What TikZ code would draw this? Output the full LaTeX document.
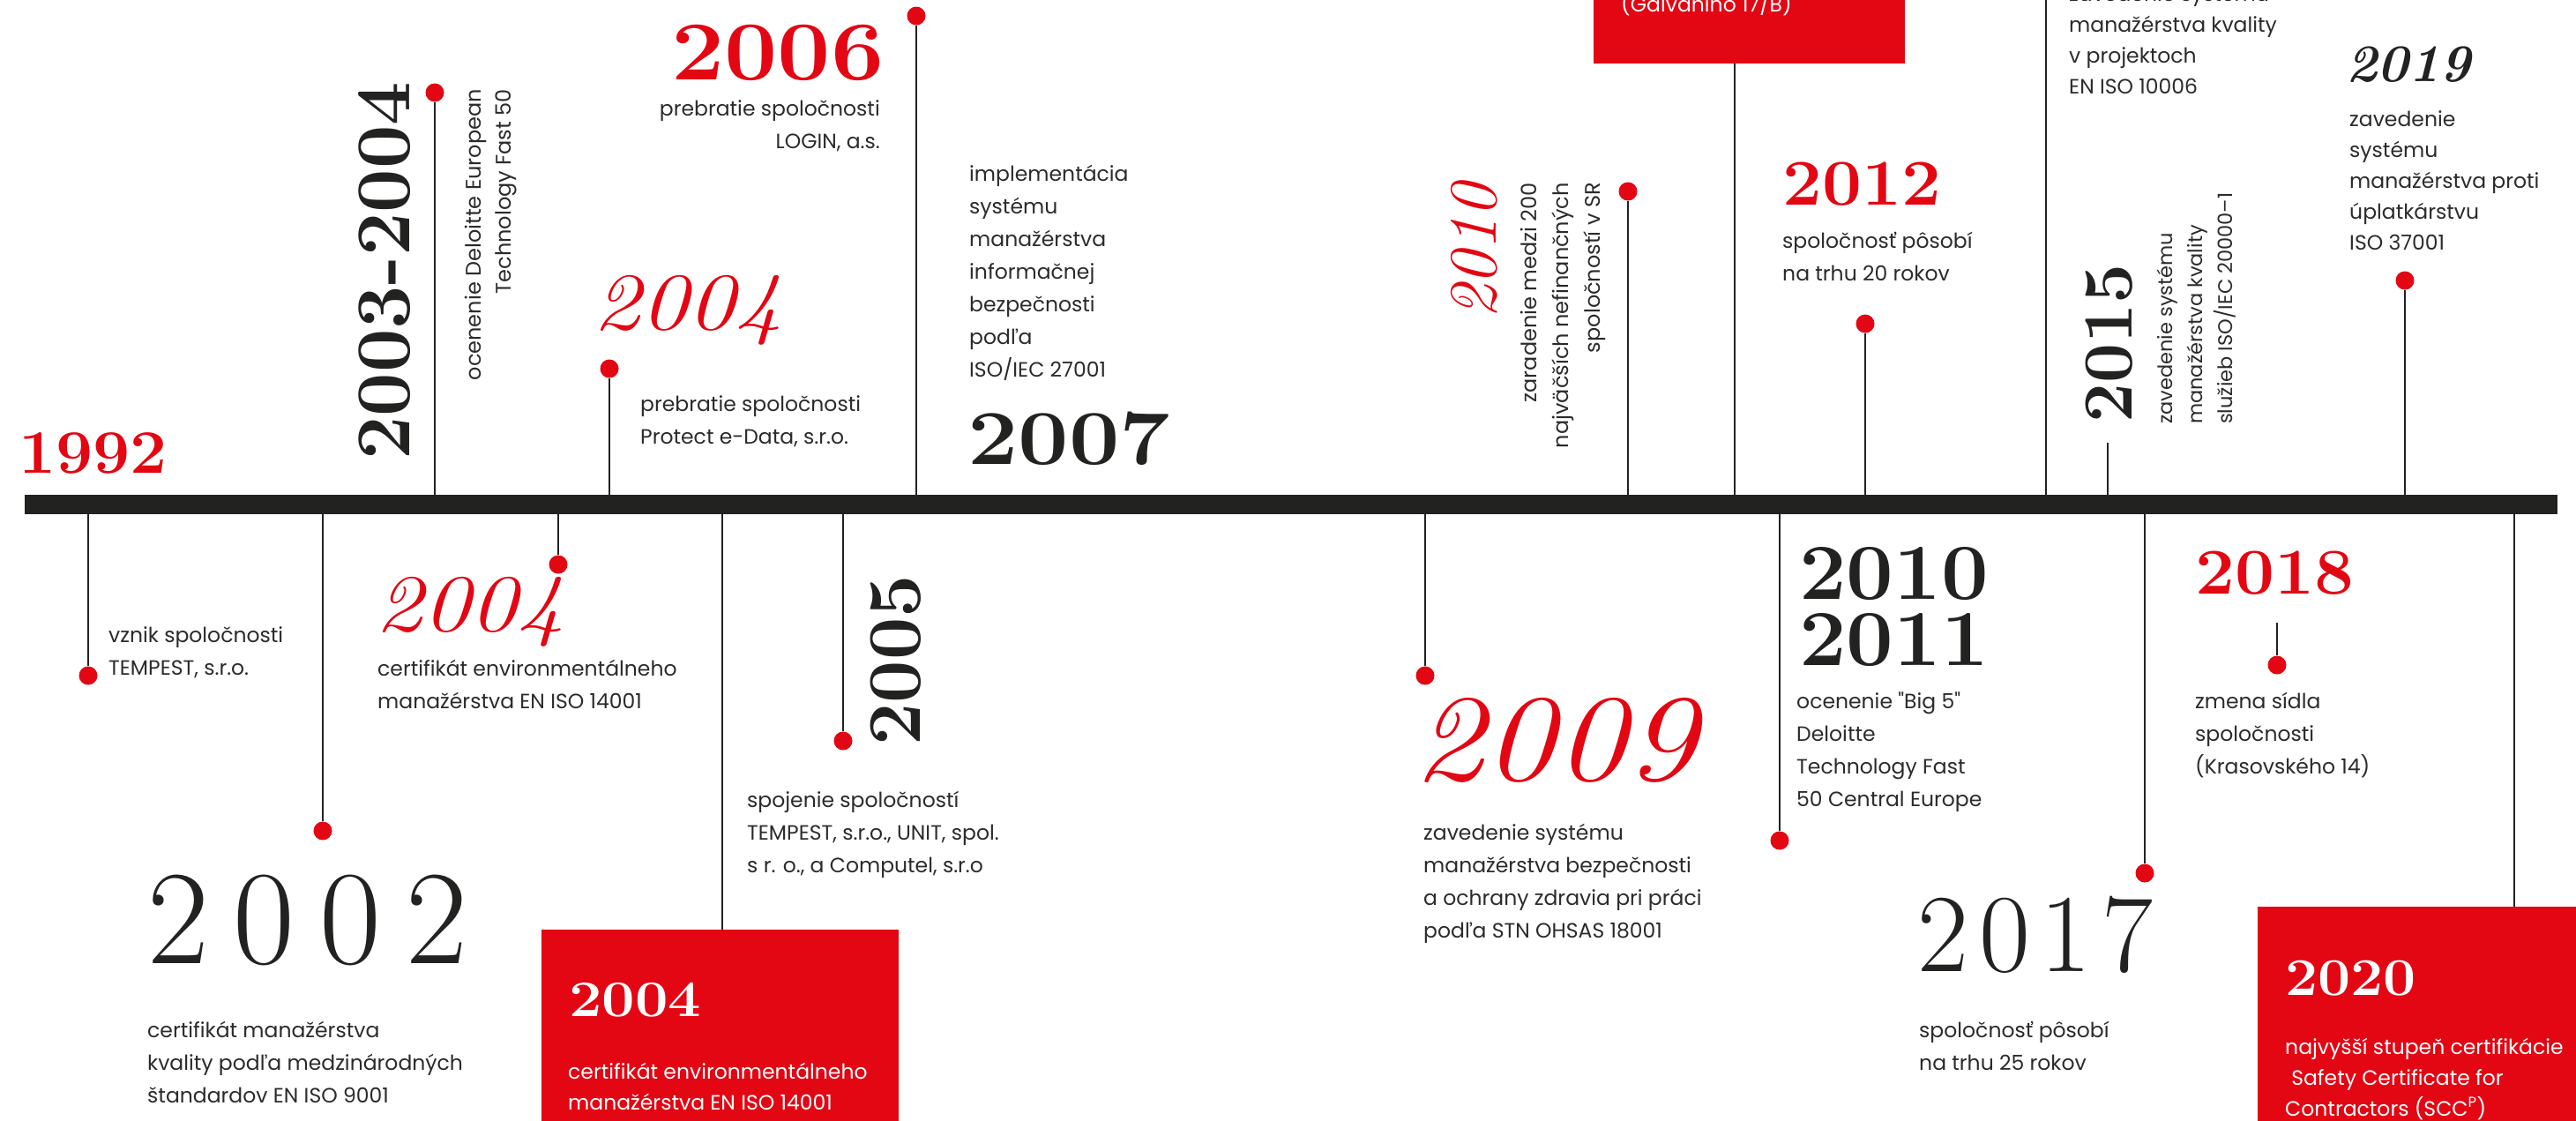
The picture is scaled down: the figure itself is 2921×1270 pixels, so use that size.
\documentclass[tikz,border=0pt]{standalone}
\usepackage{fontspec}
\newfontfamily\pop{Poppins}
\definecolor{tred}{HTML}{E30613}
\definecolor{tink}{HTML}{222221}
\definecolor{ttext}{HTML}{2B2B2B}
\begin{document}
\begin{tikzpicture}[x=1pt,y=-1pt,
 dot/.style={circle,fill=tred,inner sep=0pt,minimum size=21pt},
 stem/.style={draw=tink,line width=2.6pt},
 body/.style={font=\pop\fontsize{23.5}{#1}\selectfont,text=ttext,inner sep=0pt,anchor=base west,align=left},
 body/.default=37,
 rbody/.style={font=\pop\fontsize{24}{#1}\selectfont,text=ttext,inner sep=0pt,rotate=90},
 yr/.style={font=\fontsize{#1}{#1}\selectfont,inner sep=0pt,anchor=base west},
 yb/.style={font=\fontsize{#1}{#1}\selectfont\bfseries,inner sep=0pt,anchor=base west},
 yi/.style={font=\fontsize{#1}{#1}\selectfont\itshape,inner sep=0pt,anchor=base west},
 ybi/.style={font=\fontsize{#1}{#1}\selectfont\bfseries\itshape,inner sep=0pt,anchor=base west},
 redbox/.style={fill=tred,inner sep=0pt,anchor=north west},
]
\path[use as bounding box] (0,0) rectangle (2921,1270);
\clip (0,0) rectangle (2921,1270);

% timeline bar
\node[fill=tink,inner sep=0pt,minimum width=2872pt,minimum height=22pt,anchor=north west] (bar) at (28,561) {};

% red boxes
\node[redbox,minimum width=353pt,minimum height=100pt] (boxtop) at (1807,-28) {};
\node[redbox,minimum width=405pt,minimum height=240pt] (box2004) at (614,1054) {};
\node[redbox,minimum width=380pt,minimum height=260pt] (box2020) at (2560,1028) {};

% dots
\node[dot] (d2003) at (493,105) {};
\node[dot] (d2004a) at (691,418) {};
\node[dot] (d2006) at (1039,18) {};
\node[dot] (d2010) at (1846,217) {};
\node[dot] (d2012) at (2115,367) {};
\node[dot] (d2019) at (2727,318) {};
\node[dot] (d1992) at (100,766) {};
\node[dot] (d2002) at (366,942) {};
\node[dot] (d2004b) at (633,640) {};
\node[dot] (d2005) at (956,840) {};
\node[dot] (d2009) at (1616,766) {};
\node[dot] (d2011) at (2018,953) {};
\node[dot] (d2017) at (2432,990) {};
\node[dot] (d2018) at (2582,754) {};

% free stem ends
\coordinate (xbox2004) at (819,0);
\coordinate (xgal) at (1967,0);
\coordinate (x2020) at (2851,0);
\coordinate (s10006) at (2320,-5);
\coordinate (s2015) at (2390,502);
\coordinate (s2018) at (2582,706);

% stems above the bar
\foreach \d in {d2003,d2004a,d2006,d2010,d2012,d2019}
  \draw[stem] (\d) -- (\d |- bar.north);
\draw[stem] (boxtop.south -| xgal) -- (bar.north -| xgal);
\draw[stem] (s10006) -- (s10006 |- bar.north);
\draw[stem] (s2015) -- (s2015 |- bar.north);
% stems below the bar
\foreach \d in {d1992,d2002,d2004b,d2005,d2009,d2011,d2017}
  \draw[stem] (\d) -- (\d |- bar.south);
\draw[stem] (bar.south -| xbox2004) -- (box2004.north -| xbox2004);
\draw[stem] (bar.south -| x2020) -- (box2020.north -| x2020);
\draw[stem] (s2018) -- (d2018);

% years
\node[yb=70,text=tred] (y1992) at (21,536) {\scalebox{1.07}[1]{1992}};
\node[yb=88,text=tink,rotate=90] (y2003) at (464,522) {2003-2004};
\node[yi=92,text=tred] (y2004a) at (672,373) {\scalebox{1.17}[1]{2004}};
\node[yb=95,text=tred,anchor=base east] (y2006) at (1003,90) {\scalebox{1.13}[1]{2006}};
\node[yb=88,text=tink] (y2007) at (1097,526) {\scalebox{1.16}[1]{2007}};
\node[yi=77,text=tred,rotate=90] (y2010) at (1696,362) {2010};
\node[yb=74,text=tred] (y2012) at (2021,232) {\scalebox{1.08}[1]{2012}};
\node[yb=80,text=tink,rotate=90] (y2015) at (2417,480) {2015};
\node[ybi=60,text=tink] (y2019) at (2660,92) {2019};
\node[yi=92,text=tred] (y2004b) at (425,715) {\scalebox{1.17}[1]{2004}};
\node[yr=152,text=tink] (y2002) at (167,1092) {2\kern28pt0\kern28pt0\kern28pt2};
\node[yb=58,text=white] (y2004c) at (645,1152) {\scalebox{1.15}[1]{2004}};
\node[yb=86,text=tink,rotate=90] (y2005) at (1043,846) {2005};
\node[yi=140,text=tred] (y2009) at (1602,884) {\scalebox{1.15}[1]{2009}};
\node[yb=90,text=tink,align=left,font=\fontsize{90}{75}\selectfont\bfseries] (y2011) at (2040,754) {\scalebox{1.06}[1]{2010}\\\scalebox{1.06}[1]{2011}};
\node[yr=126,text=tink] (y2017) at (2174,1101) {2\kern12pt0\kern12pt1\kern12pt7};
\node[yb=74,text=tred] (y2018) at (2489,673) {\scalebox{1.08}[1]{2018}};
\node[yb=60,text=white] (y2020) at (2591,1128) {\scalebox{1.1}[1]{2020}};

% texts above the bar
\node[rbody=34,anchor=base east,align=right] (t2003) at (579,101) {ocenenie Deloitte European\\Technology Fast 50};
\node[body,anchor=base east,align=right] (t2006) at (998,168) {prebratie spoločnosti\\LOGIN, a.s.};
\node[body] (t2004a) at (726,503) {prebratie spoločnosti\\Protect e-Data, s.r.o.};
\node[body] (t2007) at (1099,427) {implementácia\\systému\\manažérstva\\informačnej\\bezpečnosti\\podľa\\ISO/IEC 27001};
\node[rbody=36,anchor=base east,align=right] (t2010) at (1814,207) {zaradenie medzi 200\\najväčších nefinančných\\spoločností v SR};
\node[body,text=white] (tgal) at (1838,13) {(Galvaniho 17/B)};
\node[body] (t2012) at (2021,318) {spoločnosť pôsobí\\na trhu 20 rokov};
\node[body=35] (t10006) at (2346,106) {zavedenie systému\\manažérstva kvality\\v projektoch\\EN ISO 10006};
\node[rbody=34,anchor=base west,align=left,font=\pop\fontsize{22.5}{34}\selectfont] (t2015) at (2531,481) {zavedenie systému\\manažérstva kvality\\služieb ISO/IEC 20000–1};
\node[body=35] (t2019) at (2664,283) {zavedenie\\systému\\manažérstva proti\\úplatkárstvu\\ISO 37001};

% texts below the bar
\node[body] (t1992) at (123,765) {vznik spoločnosti\\TEMPEST, s.r.o.};
\node[body] (t2002) at (167,1250) {certifikát manažérstva\\kvality podľa medzinárodných\\štandardov EN ISO 9001};
\node[body] (t2004b) at (428,803) {certifikát environmentálneho\\manažérstva EN ISO 14001};
\node[body=35,text=white] (t2004c) at (644,1258) {certifikát environmentálneho\\manažérstva EN ISO 14001};
\node[body] (t2005) at (847,989) {spojenie spoločností\\TEMPEST, s.r.o., UNIT, spol.\\s r. o., a Computel, s.r.o};
\node[body] (t2009) at (1614,1063) {zavedenie systému\\manažérstva bezpečnosti\\a ochrany zdravia pri práci\\podľa STN OHSAS 18001};
\node[body] (t2011) at (2037,914) {ocenenie "Big 5"\\Deloitte\\Technology Fast\\50 Central Europe};
\node[body] (t2017) at (2176,1213) {spoločnosť pôsobí\\na trhu 25 rokov};
\node[body] (t2018) at (2489,877) {zmena sídla\\spoločnosti\\(Krasovského 14)};
\node[body=35,text=white] (t2020) at (2591,1265) {najvyšší stupeň certifikácie\\\hspace{0.3em}Safety Certificate for\\Contractors (SCC\textsuperscript{P})};
\end{tikzpicture}
\end{document}
